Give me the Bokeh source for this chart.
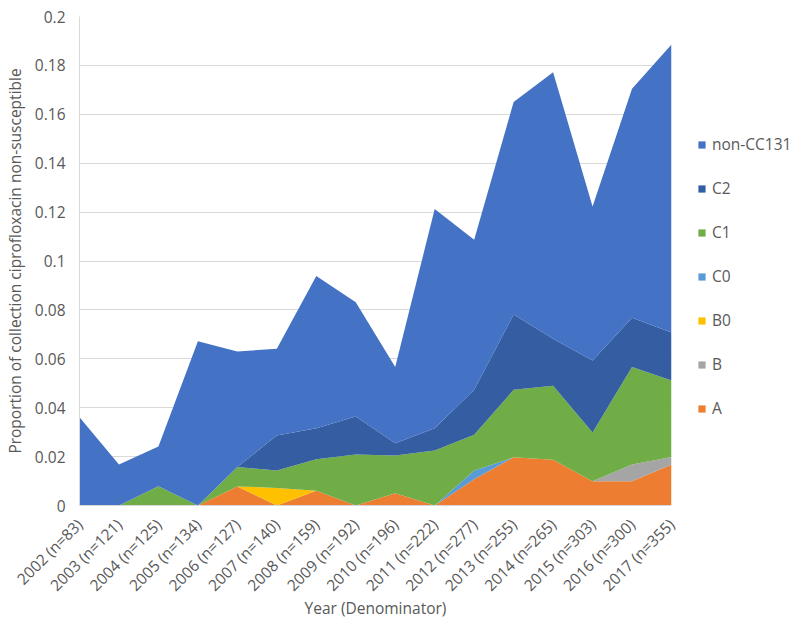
from bokeh.plotting import figure
from bokeh.models import (ColumnDataSource, Range1d, FixedTicker, Legend, LegendItem)
from bokeh.embed import file_html
from bokeh.resources import INLINE

years = ["2002 (n=83)", "2003 (n=121)", "2004 (n=125)", "2005 (n=134)", "2006 (n=127)",
         "2007 (n=140)", "2008 (n=159)", "2009 (n=192)", "2010 (n=196)", "2011 (n=222)",
         "2012 (n=277)", "2013 (n=255)", "2014 (n=265)", "2015 (n=303)", "2016 (n=300)",
         "2017 (n=355)"]

A = [0, 0, 0, 0, 0.0078, 0, 0.006, 0, 0.005, 0, 0.0107, 0.0197, 0.0187, 0.0099, 0.0099, 0.0168]
B = [0, 0, 0, 0, 0, 0, 0, 0, 0, 0, 0, 0, 0, 0, 0.0069, 0.003]
B0 = [0, 0, 0, 0, 0, 0.0072, 0, 0, 0, 0, 0, 0, 0, 0, 0, 0]
C0 = [0, 0, 0, 0, 0, 0, 0, 0, 0, 0, 0.0036, 0, 0, 0, 0, 0]
C1 = [0, 0, 0.0079, 0, 0.0079, 0.0071, 0.0129, 0.0209, 0.0154, 0.0225, 0.0146, 0.0276,
      0.0303, 0.02, 0.0398, 0.0313]
C2 = [0, 0, 0, 0, 0, 0.0143, 0.0127, 0.0155, 0.0051, 0.0091, 0.0184, 0.0308, 0.0192,
      0.0294, 0.0202, 0.0197]
nonCC131 = [0.0361, 0.0168, 0.0162, 0.0672, 0.0473, 0.0355, 0.0623, 0.0467, 0.0311, 0.0897,
            0.0614, 0.0869, 0.109, 0.063, 0.0936, 0.1177]

series_names = ["A", "B", "B0", "C0", "C1", "C2", "non-CC131"]
series_values = [A, B, B0, C0, C1, C2, nonCC131]
colors = ["#ED7D31", "#A5A5A5", "#FFC000", "#5B9BD5", "#70AD47", "#355DA2", "#4472C4"]

y_ticks = [0, 0.02, 0.04, 0.06, 0.08, 0.1, 0.12, 0.14, 0.16, 0.18, 0.2]
y_tick_labels = ["0", "0.02", "0.04", "0.06", "0.08", "0.1", "0.12", "0.14", "0.16", "0.18", "0.2"]

FONT = "Open Sans"
TXT = "#595959"

xs = list(range(len(years)))
data = {"x": xs}
for n, v in zip(series_names, series_values):
    data[n] = v
source = ColumnDataSource(data)

p = figure(width=784, height=610, output_backend="svg", toolbar_location=None,
           x_range=Range1d(0, len(years) - 1), y_range=Range1d(0, 0.2),
           frame_width=592, frame_height=489,
           min_border_left=70, min_border_right=122, min_border_top=16, min_border_bottom=105)
p.outline_line_color = None
p.background_fill_color = "white"

renderers = p.varea_stack(stackers=series_names, x="x", color=colors, source=source)

# axes
p.xaxis.ticker = FixedTicker(ticks=xs)
p.xaxis.major_label_overrides = {i: years[i] for i in xs}
p.xaxis.major_label_orientation = 0.785398
p.xaxis.axis_label = "Year (Denominator)"
p.yaxis.ticker = FixedTicker(ticks=y_ticks)
p.yaxis.major_label_overrides = {t: l for t, l in zip(y_ticks, y_tick_labels)}
p.yaxis.axis_label = "Proportion of collection ciprofloxacin non-susceptible"

for ax in [p.xaxis[0], p.yaxis[0]]:
    ax.axis_line_color = "#D9D9D9"
    ax.major_tick_line_color = None
    ax.minor_tick_line_color = None
    ax.major_tick_in = 0
    ax.major_tick_out = 0
    ax.major_label_text_font = FONT
    ax.major_label_text_font_size = "15.5px"
    ax.major_label_text_color = TXT
    ax.axis_label_text_font = FONT
    ax.axis_label_text_font_size = "15.5px"
    ax.axis_label_text_font_style = "normal"
    ax.axis_label_text_color = TXT

p.yaxis.major_label_standoff = 14
p.yaxis.axis_label_standoff = 6
p.xaxis.major_label_standoff = 16
p.xaxis.axis_label_standoff = -9

p.xgrid.grid_line_color = None
p.ygrid.ticker = FixedTicker(ticks=y_ticks)
p.ygrid.grid_line_color = "#D9D9D9"
p.ygrid.grid_line_width = 1

items = [LegendItem(label=n, renderers=[r]) for n, r in zip(series_names, renderers)][::-1]
legend = Legend(items=items, location=(26, 86), padding=0, margin=0,
                glyph_width=9, glyph_height=9, label_height=20, spacing=22,
                label_standoff=6, label_text_font=FONT, label_text_font_size="15.5px",
                label_text_color=TXT, border_line_color=None, background_fill_alpha=0)
p.add_layout(legend, "right")

open("out.html", "w").write(file_html(p, INLINE))
